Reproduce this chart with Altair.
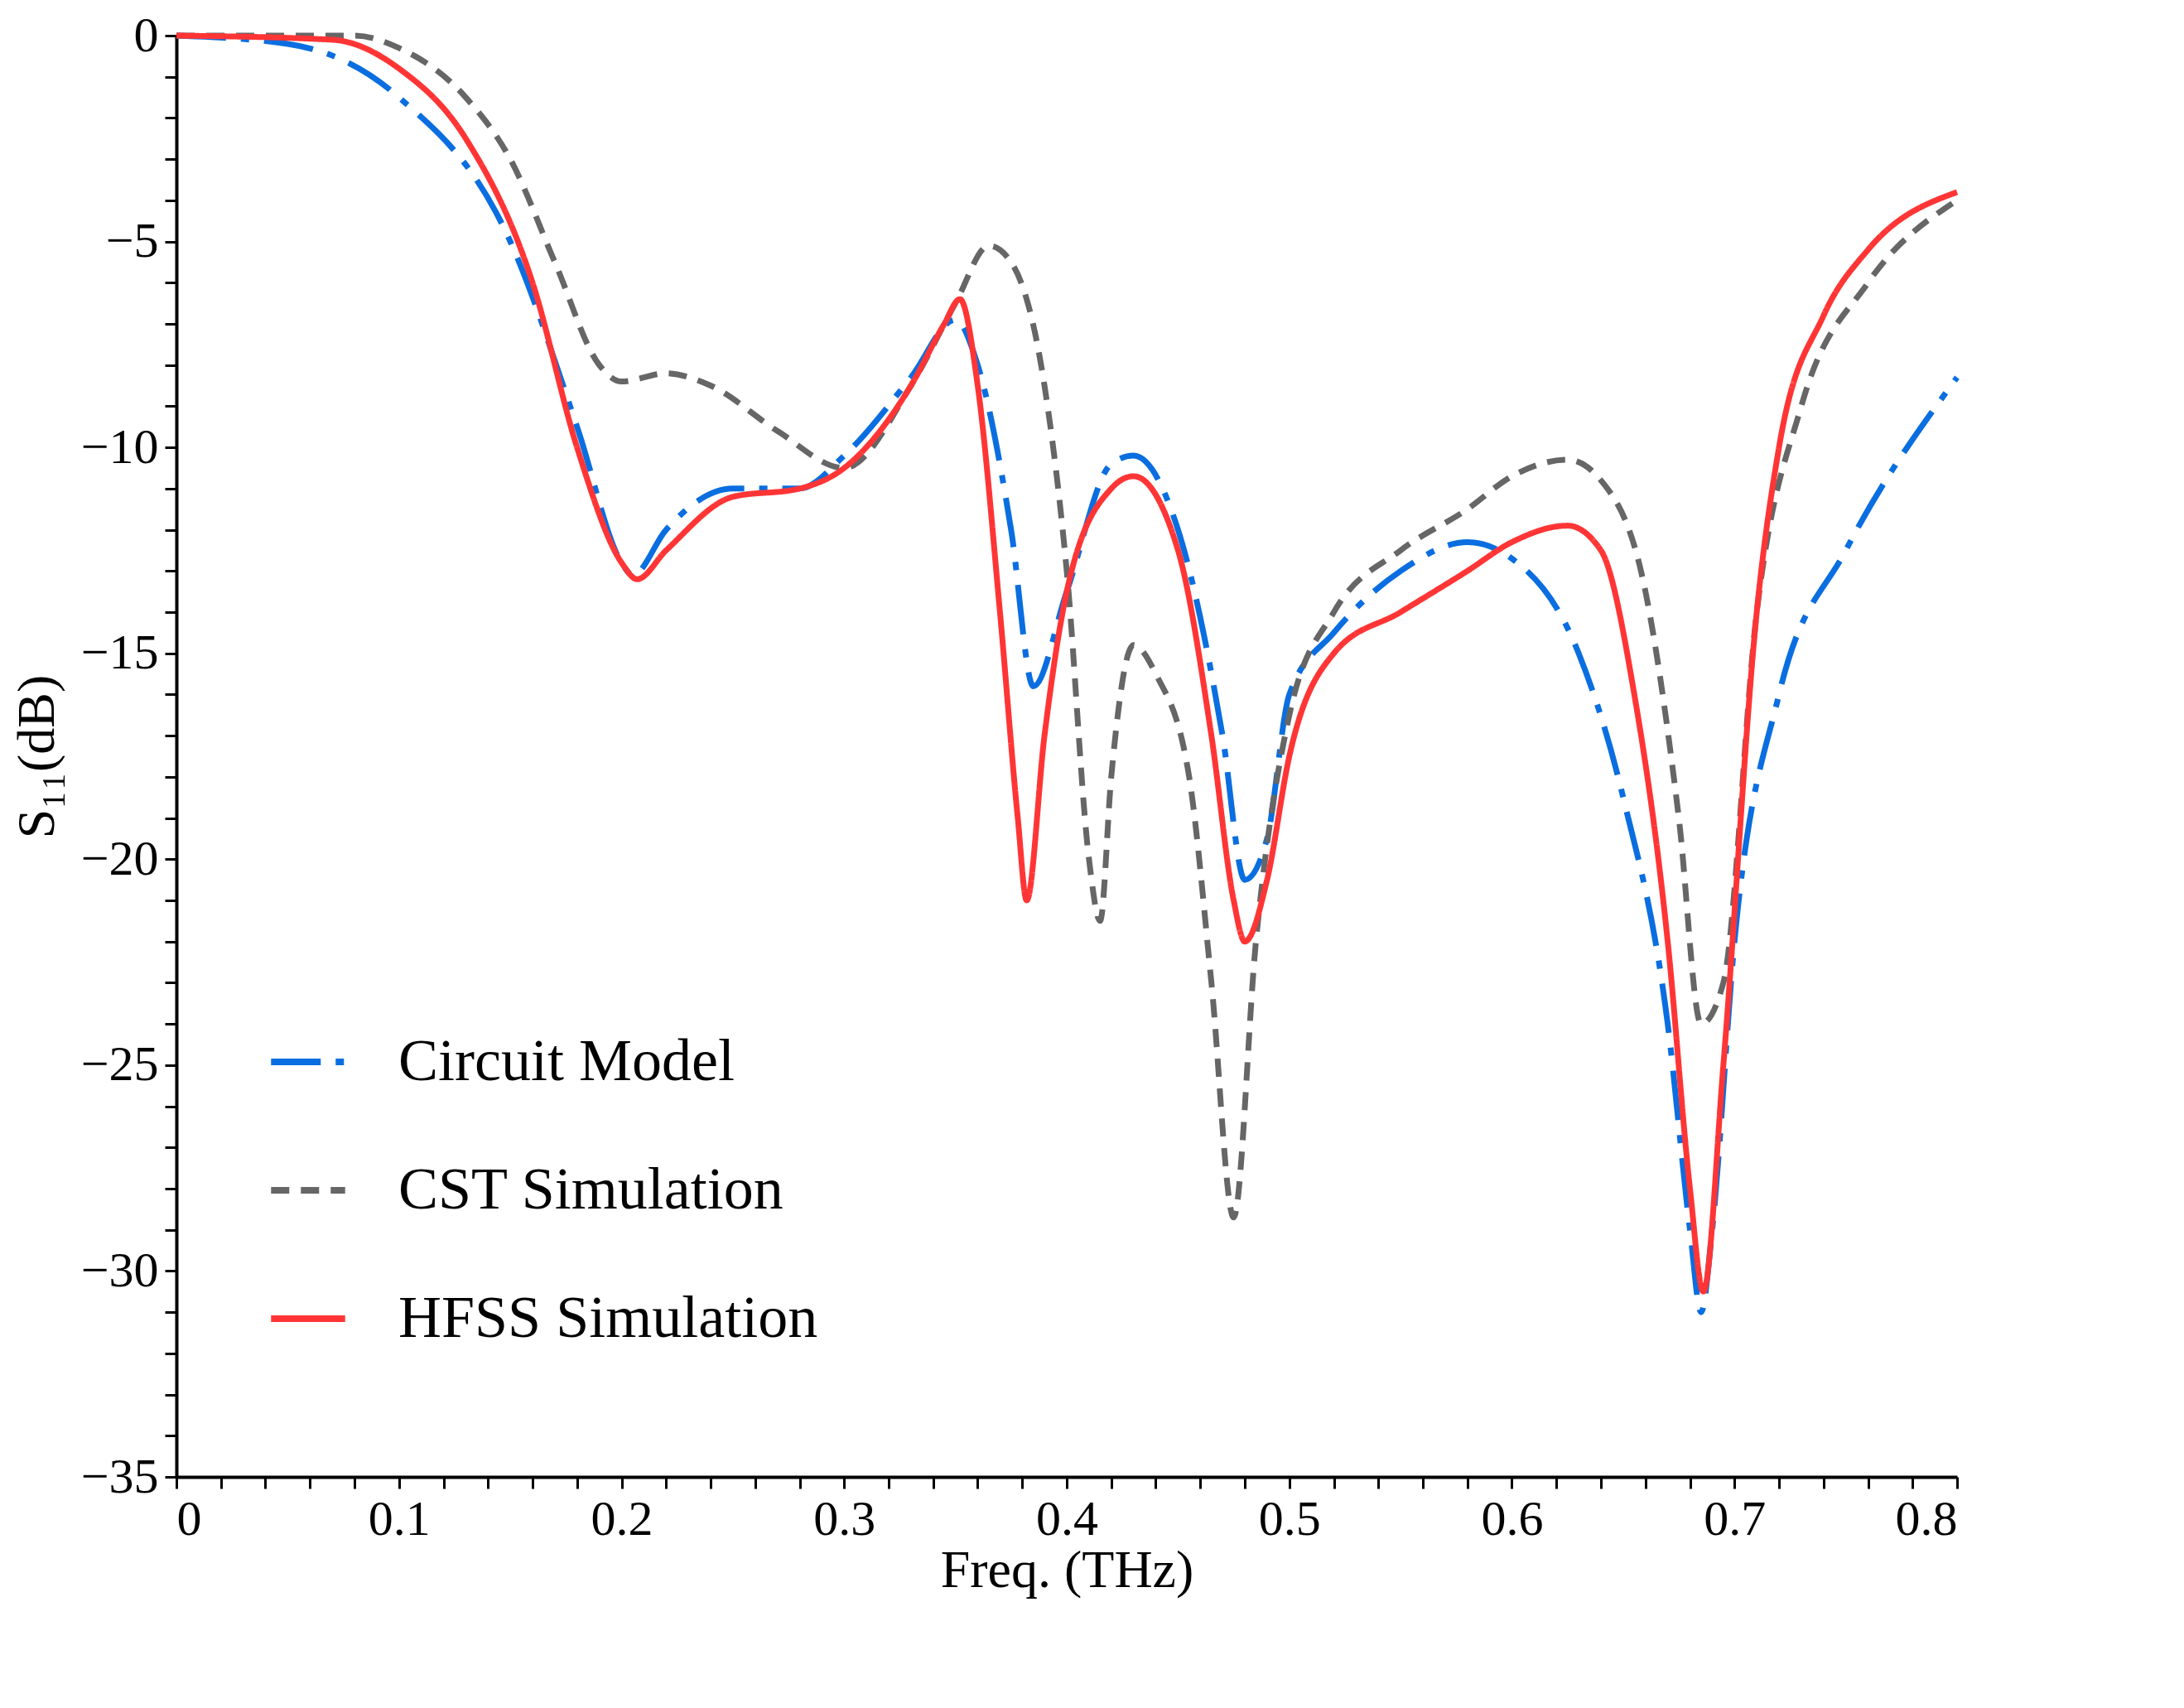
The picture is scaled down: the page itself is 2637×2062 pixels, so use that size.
import altair as alt
import pandas as pd

blue_f = [0,0.05,0.1,0.15,0.18,0.2,0.205,0.22,0.25,0.28,0.3,0.33,0.35,0.36,0.375,0.385,0.4,0.42,0.43,0.45,0.47,0.48,0.49,0.5,0.52,0.55,0.58,0.6,0.63,0.65,0.67,0.68,0.685,0.69,0.7,0.72,0.75,0.8]
blue_s = [0,-0.2,-1.5,-5,-9.5,-12.8,-13.1,-12,-11,-11,-10.2,-8.3,-6.9,-8,-12,-15.8,-13.5,-10.4,-10.2,-12,-17,-20.5,-19.5,-16,-14.5,-13,-12.3,-12.7,-15,-18.5,-24,-29,-31,-29,-22,-16,-12.5,-8.3]
red_f = [0,0.07,0.1,0.13,0.16,0.18,0.2,0.207,0.22,0.25,0.28,0.3,0.33,0.345,0.352,0.36,0.37,0.378,0.382,0.39,0.4,0.42,0.43,0.45,0.465,0.475,0.48,0.49,0.5,0.52,0.55,0.58,0.6,0.625,0.64,0.655,0.67,0.68,0.686,0.695,0.71,0.72,0.74,0.76,0.8]
red_s = [0,-0.1,-0.8,-2.5,-6,-10,-12.8,-13.2,-12.5,-11.2,-11,-10.5,-8.5,-7,-6.4,-8.5,-14,-19,-21,-17,-13.5,-11,-10.7,-12.5,-17,-21,-22,-20.5,-17.5,-15,-14,-13,-12.3,-11.9,-12.5,-16,-22,-28,-30.5,-25,-14,-10,-6.8,-5.2,-3.8]
gray_f = [0,0.08,0.1,0.13,0.15,0.17,0.19,0.2,0.22,0.24,0.27,0.3,0.33,0.35,0.365,0.375,0.39,0.4,0.41,0.415,0.42,0.43,0.44,0.455,0.465,0.475,0.485,0.5,0.52,0.55,0.58,0.6,0.625,0.64,0.66,0.675,0.685,0.695,0.71,0.73,0.76,0.8]
gray_s = [0,0,-0.3,-1.5,-3,-5.5,-8,-8.4,-8.2,-8.5,-9.6,-10.5,-8.5,-6.5,-5.1,-5.5,-8.5,-13,-20,-21.5,-18,-14.8,-15.5,-18,-23,-28.7,-22,-16.5,-14,-12.5,-11.5,-10.7,-10.3,-10.8,-13.5,-19,-24,-23,-14,-9,-6,-4]

names = ["Circuit Model", "CST Simulation", "HFSS Simulation"]
rows = []
for n, fs, ss in [(names[0], blue_f, blue_s), (names[1], gray_f, gray_s), (names[2], red_f, red_s)]:
    for i, (f, s) in enumerate(zip(fs, ss)):
        rows.append({"f": f, "s": s, "series": n, "o": i})
df = pd.DataFrame(rows)

font = "Liberation Serif"
xt = [round(i * 0.02, 2) for i in range(41)]
yt = list(range(-35, 1))

chart = alt.Chart(df).mark_line(strokeWidth=7, interpolate="monotone").encode(
    x=alt.X("f:Q", scale=alt.Scale(domain=[0, 0.8], nice=False),
            axis=alt.Axis(title="Freq. (THz)", values=xt,
                          labelExpr="abs(datum.value*10 - round(datum.value*10)) < 0.001 ? (datum.value==0 ? '0' : format(datum.value, '.1f')) : ''",
                          titlePadding=0)),
    y=alt.Y("s:Q", scale=alt.Scale(domain=[-35, 0], nice=False),
            axis=alt.Axis(title="S₁₁(dB)", values=yt,
                          labelExpr="datum.value % 5 == 0 ? replace(format(datum.value, 'd'), '-', '−') : ''",
                          titlePadding=20)),
    color=alt.Color("series:N", scale=alt.Scale(domain=names, range=["#0a6ee0", "#666666", "#ff3535"]),
                    legend=alt.Legend(title=None, orient="none", legendX=110, legendY=1190,
                                      symbolType="stroke", symbolSize=8000, symbolStrokeWidth=8,
                                      labelFontSize=72, labelFont=font, rowPadding=70, labelOffset=60,
                                      labelColor="black", labelLimit=0)),
    strokeDash=alt.StrokeDash("series:N", scale=alt.Scale(domain=names, range=[[60, 18, 10, 18], [22, 14], [1, 0]]),
                              legend=None),
    order="o:Q",
).properties(width=2150, height=1740, background="white").configure_axis(
    labelFont=font, titleFont=font, labelFontSize=60, titleFontSize=64,
    labelFontWeight="normal", titleFontWeight="normal", labelColor="black", titleColor="black",
    domainColor="black", domainWidth=4, tickColor="black", tickWidth=3, tickSize=14, grid=False,
    labelPadding=8
).configure_view(stroke=None)

chart.save("out.html", embed_options={"renderer": "svg", "actions": False})
